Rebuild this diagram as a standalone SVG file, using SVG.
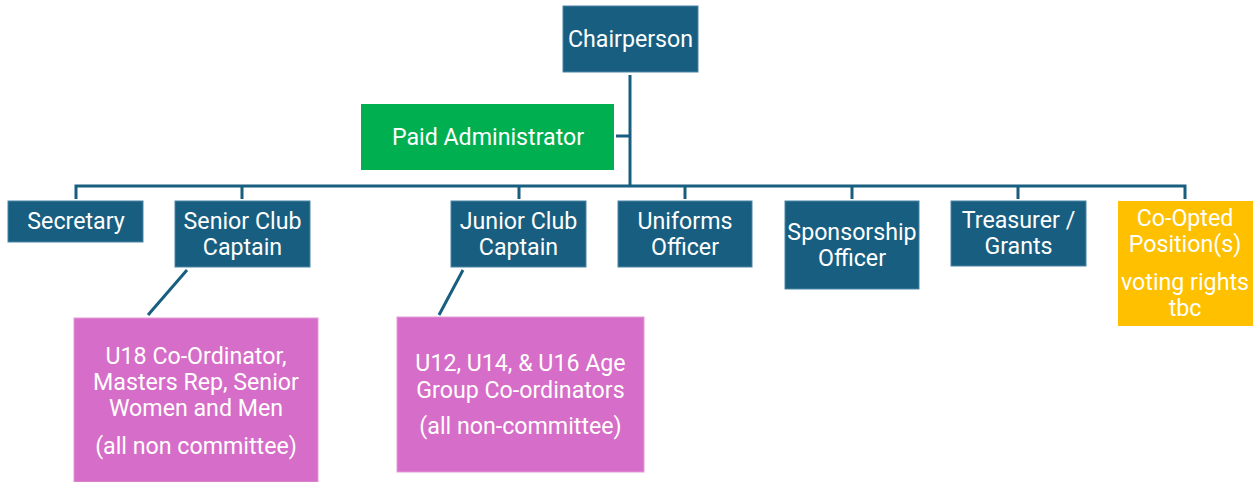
<svg xmlns="http://www.w3.org/2000/svg" width="1255" height="482" viewBox="0 0 1255 482">
  <style>
    .box { fill: #185E80; stroke: #4A86A6; stroke-width: 1; }
    .green { fill: #00B050; }
    .pink { fill: #D66DC8; stroke: #E39AD8; stroke-width: 1; }
    .gold { fill: #FFC000; }
    .conn { stroke: #185E80; stroke-width: 3; fill: none; }
    text { font-family: Roboto, "Liberation Sans", sans-serif; font-size: 23.2px; fill: #FFFFFF; text-anchor: middle; dominant-baseline: central; }
  </style>
  <rect width="1255" height="482" fill="#FFFFFF"/>

  <g id="connectors">
    <path class="conn" d="M630 75 V186"/>
    <path class="conn" d="M616 136 H630"/>
    <path class="conn" d="M76 199 V186 H1185 V199"/>
    <path class="conn" d="M242 186 V199 M519 186 V199 M685 186 V199 M852 186 V199 M1018 186 V199"/>
    <path class="conn" d="M187 270 L148 315"/>
    <path class="conn" d="M463 270 L439 315"/>
  </g>

  <g id="chairperson">
    <rect class="box" x="563" y="6" width="135" height="66"/>
    <text x="630.5" y="39">Chairperson</text>
  </g>
  <g id="paid-administrator">
    <rect class="green" x="361" y="104" width="253" height="66"/>
    <text x="488" y="137">Paid Administrator</text>
  </g>
  <g id="secretary">
    <rect class="box" x="8" y="201" width="135" height="41"/>
    <text x="76" y="221">Secretary</text>
  </g>
  <g id="senior-club-captain">
    <rect class="box" x="175" y="201" width="135" height="66"/>
    <text x="242.5" y="221">Senior Club</text>
    <text x="242.5" y="247">Captain</text>
  </g>
  <g id="junior-club-captain">
    <rect class="box" x="451" y="201" width="135" height="66"/>
    <text x="518.5" y="221">Junior Club</text>
    <text x="518.5" y="247">Captain</text>
  </g>
  <g id="uniforms-officer">
    <rect class="box" x="618" y="201" width="134" height="66"/>
    <text x="685" y="221">Uniforms</text>
    <text x="685" y="247">Officer</text>
  </g>
  <g id="sponsorship-officer">
    <rect class="box" x="785" y="201" width="134" height="88"/>
    <text x="852" y="232">Sponsorship</text>
    <text x="852" y="258">Officer</text>
  </g>
  <g id="treasurer-grants">
    <rect class="box" x="951" y="201" width="135" height="65"/>
    <text x="1018.5" y="220">Treasurer /</text>
    <text x="1018.5" y="246">Grants</text>
  </g>
  <g id="co-opted-positions">
    <rect class="gold" x="1118" y="201" width="135" height="125"/>
    <text x="1185" y="218">Co-Opted</text>
    <text x="1185" y="244">Position(s)</text>
    <text x="1185" y="282">voting rights</text>
    <text x="1185" y="308">tbc</text>
  </g>
  <g id="senior-coordinators">
    <rect class="pink" x="74" y="318" width="244" height="164"/>
    <text x="196" y="356">U18 Co-Ordinator,</text>
    <text x="196" y="382">Masters Rep, Senior</text>
    <text x="196" y="408">Women and Men</text>
    <text x="196" y="446">(all non committee)</text>
  </g>
  <g id="junior-coordinators">
    <rect class="pink" x="397" y="317" width="247" height="155"/>
    <text x="520.5" y="363">U12, U14, &amp; U16 Age</text>
    <text x="520.5" y="389.5">Group Co-ordinators</text>
    <text x="520.5" y="426">(all non-committee)</text>
  </g>
</svg>
